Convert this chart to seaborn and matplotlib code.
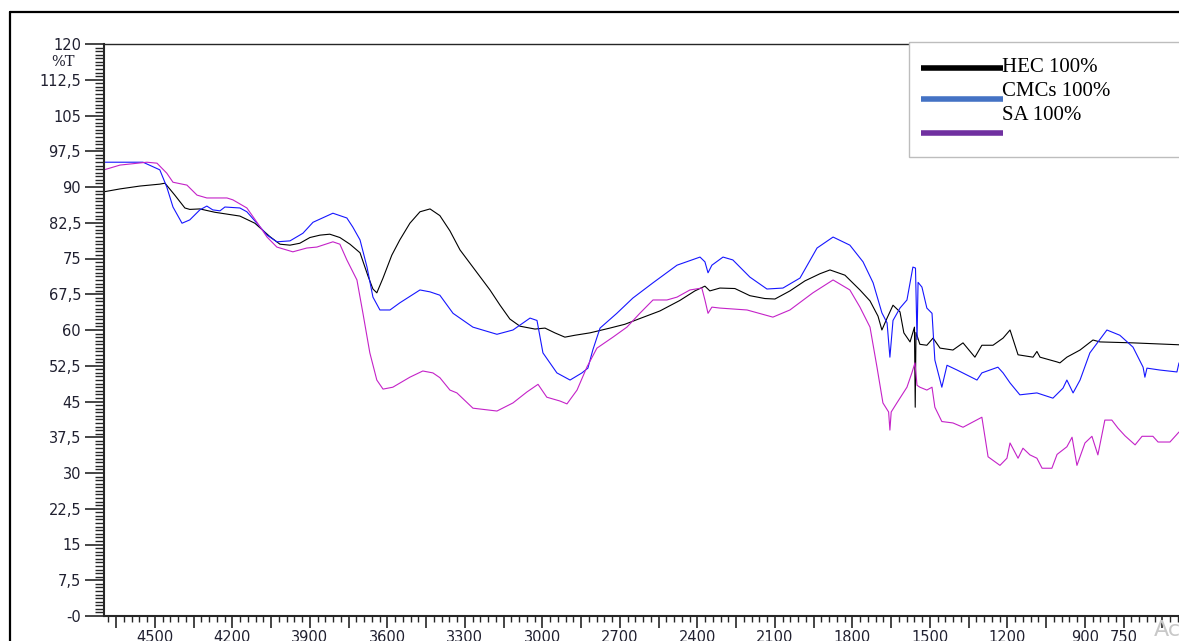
import pandas as pd
import seaborn as sns
import matplotlib.pyplot as plt
from matplotlib.lines import Line2D
from matplotlib.patches import Rectangle
from matplotlib.ticker import MultipleLocator, FuncFormatter

# FTIR spectra, wavenumber (cm-1) vs transmittance (%T)
hec_wn = [4697, 4635, 4558, 4481, 4461, 4423, 4384, 4365, 4326, 4268, 4171, 4113,
          4055, 4016, 3977, 3939, 3900, 3861, 3823, 3784, 3745, 3706, 3675, 3656,
          3641, 3617, 3583, 3552, 3513, 3474, 3435, 3397, 3358, 3319, 3261, 3203,
          3164, 3126, 3087, 3029, 2990, 2952, 2913, 2874, 2816, 2739, 2681, 2623,
          2545, 2468, 2410, 2371, 2352, 2313, 2255, 2197, 2139, 2100, 2042, 1984,
          1926, 1887, 1829, 1771, 1732, 1701, 1686, 1666, 1643, 1616, 1601, 1577,
          1560, 1557, 1554, 1539, 1512, 1488, 1461, 1411, 1372, 1326, 1299, 1256,
          1217, 1190, 1159, 1101, 1086, 1074, 1008, 997, 970, 919, 869, 842, 714, 536]
hec_t = [89.0, 89.6, 90.2, 90.6, 90.8, 88.3, 85.6, 85.3, 85.4, 84.7, 83.9, 82.4,
         79.6, 78.0, 77.8, 78.2, 79.4, 79.9, 80.1, 79.4, 78.0, 76.2, 71.3, 68.6,
         67.8, 70.9, 75.7, 78.9, 82.4, 84.8, 85.4, 84.0, 80.8, 76.8, 72.6, 68.4,
         65.2, 62.3, 60.8, 60.2, 60.4, 59.4, 58.5, 58.9, 59.4, 60.4, 61.2, 62.4,
         64.0, 66.2, 68.2, 69.2, 68.2, 68.8, 68.7, 67.2, 66.6, 66.5, 68.2, 70.3,
         71.8, 72.6, 71.5, 68.4, 66.1, 62.9, 60.0, 62.5, 65.2, 63.8, 59.4, 57.5,
         60.6, 43.8, 59.5, 57.0, 56.8, 58.3, 56.2, 55.8, 57.3, 54.3, 56.8, 56.8,
         58.3, 60.0, 54.8, 54.3, 55.5, 54.3, 53.3, 53.1, 54.3, 55.8, 57.9, 57.5,
         57.3, 56.9]

cmc_wn = [4697, 4546, 4481, 4454, 4430, 4395, 4365, 4326, 4299, 4276, 4248, 4229,
          4171, 4144, 4105, 4066, 4028, 3977, 3927, 3888, 3811, 3757, 3734, 3706,
          3679, 3656, 3629, 3590, 3552, 3474, 3435, 3397, 3346, 3269, 3176, 3114,
          3048, 3021, 2998, 2944, 2893, 2847, 2824, 2805, 2777, 2712, 2650, 2572,
          2479, 2390, 2371, 2359, 2344, 2301, 2263, 2197, 2131, 2069, 2003, 1937,
          1875, 1810, 1759, 1720, 1686, 1666, 1655, 1643, 1616, 1589, 1566, 1556,
          1550, 1546, 1531, 1512, 1492, 1481, 1454, 1434, 1395, 1318, 1299, 1237,
          1217, 1190, 1152, 1086, 1024, 985, 970, 946, 919, 881, 815, 765, 714,
          675, 668, 660, 610, 544, 536]
cmc_t = [95.2, 95.2, 93.6, 90.0, 85.8, 82.4, 83.1, 85.2, 86.0, 85.2, 85.0, 85.8,
         85.6, 84.8, 82.4, 79.9, 78.5, 78.7, 80.3, 82.6, 84.5, 83.5, 81.6, 78.9,
         73.2, 66.9, 64.2, 64.2, 65.7, 68.4, 68.0, 67.3, 63.5, 60.6, 59.1, 60.0,
         62.5, 62.0, 55.2, 51.0, 49.5, 51.0, 52.0, 55.8, 60.4, 63.5, 66.7, 69.9,
         73.6, 75.3, 74.3, 72.0, 73.6, 75.3, 74.7, 71.1, 68.6, 68.8, 70.9, 77.2,
         79.5, 77.8, 74.3, 69.9, 63.6, 61.5, 54.3, 62.0, 64.6, 66.3, 73.2, 73.0,
         58.0, 70.0, 69.0, 64.6, 63.5, 53.7, 48.0, 52.6, 51.6, 49.5, 51.0, 52.2,
         51.0, 48.9, 46.4, 46.8, 45.7, 47.8, 49.5, 46.8, 49.5, 55.2, 60.0, 58.9,
         56.4, 52.2, 50.1, 52.0, 51.6, 51.2, 53.1]

sa_wn = [4697, 4635, 4531, 4492, 4454, 4430, 4376, 4337, 4299, 4221, 4198, 4144,
         4105, 4066, 4028, 3966, 3912, 3873, 3811, 3784, 3757, 3718, 3695, 3668,
         3641, 3617, 3579, 3513, 3463, 3424, 3397, 3358, 3331, 3269, 3176, 3114,
         3060, 3017, 2983, 2932, 2905, 2866, 2828, 2789, 2727, 2673, 2623, 2572,
         2518, 2479, 2429, 2383, 2371, 2359, 2344, 2313, 2208, 2108, 2042, 1953,
         1875, 1810, 1771, 1732, 1705, 1682, 1660, 1655, 1650, 1628, 1589, 1570,
         1558, 1550, 1539, 1512, 1492, 1481, 1454, 1411, 1372, 1306, 1299, 1275,
         1229, 1202, 1190, 1159, 1140, 1113, 1086, 1066, 1028, 1008, 970, 950, 931,
         900, 873, 850, 823, 796, 772, 745, 706, 679, 637, 617, 571, 536]
sa_t = [93.6, 94.6, 95.2, 95.0, 92.9, 91.0, 90.4, 88.3, 87.7, 87.7, 87.3, 85.6,
        82.6, 79.5, 77.4, 76.4, 77.2, 77.4, 78.5, 78.0, 74.7, 70.5, 63.6, 55.2,
        49.5, 47.6, 48.0, 50.1, 51.4, 51.0, 50.0, 47.4, 46.8, 43.6, 43.0, 44.7,
        47.0, 48.6, 45.9, 45.1, 44.5, 47.4, 52.2, 56.2, 58.5, 60.6, 63.5, 66.3,
        66.3, 66.9, 68.4, 68.8, 66.3, 63.5, 64.8, 64.6, 64.2, 62.7, 64.2, 67.8,
        70.5, 68.4, 64.8, 60.6, 52.2, 44.7, 42.8, 39.0, 42.8, 44.7, 48.0, 51.0,
        53.1, 48.4, 48.0, 47.4, 48.0, 43.8, 40.8, 40.5, 39.6, 41.5, 41.7, 33.4,
        31.6, 33.1, 36.3, 33.1, 35.2, 33.8, 33.1, 31.0, 31.0, 33.9, 35.5, 37.5,
        31.6, 36.3, 37.7, 33.8, 41.1, 41.1, 39.4, 37.8, 35.9, 37.7, 37.7, 36.5,
        36.5, 38.6]

series_names = ["HEC 100%", "CMCs 100%", "SA 100%"]
line_colors = ["#000000", "#1616ff", "#c422c8"]
legend_colors = ["#000000", "#4472c4", "#7030a0"]

W, H = 1179, 641


def fx(px):
    return px / W


def fy(py):
    return 1 - py / H


def y_label(v, pos):
    if abs(v) < 1e-9:
        return "-0"
    return f"{v:g}".replace(".", ",")


def x_label(v, pos):
    v = int(round(v))
    if v == 750 or (v % 300 == 0 and v != 600):
        return str(v)
    return ""


sns.set_style("ticks")
plt.rcParams["font.family"] = ["DejaVu Sans"]

fig = plt.figure(figsize=(W / 100, H / 100), dpi=100)
ax = fig.add_axes([fx(104), fy(616), fx(W) - fx(104), fy(44) - fy(616)])

frames = [
    pd.DataFrame({"wn": hec_wn, "t": hec_t}),
    pd.DataFrame({"wn": cmc_wn, "t": cmc_t}),
    pd.DataFrame({"wn": sa_wn, "t": sa_t}),
]
for df, c in zip(frames, line_colors):
    sns.lineplot(data=df, x="wn", y="t", ax=ax, color=c, lw=0.8,
                 estimator=None, sort=False)

ax.set_xlim(4697, 536)
ax.set_ylim(0, 120)
ax.set_xlabel("")
ax.set_ylabel("")

ax.yaxis.set_major_locator(MultipleLocator(7.5))
ax.yaxis.set_minor_locator(MultipleLocator(0.75))
ax.yaxis.set_major_formatter(FuncFormatter(y_label))
ax.xaxis.set_major_locator(MultipleLocator(150))
ax.xaxis.set_minor_locator(MultipleLocator(30))
ax.xaxis.set_major_formatter(FuncFormatter(x_label))

ax.tick_params(axis="y", which="major", direction="out", length=13.5, width=1.2,
               pad=3, labelsize=10.5, labelcolor="#202030")
ax.tick_params(axis="y", which="minor", direction="out", length=6.5, width=1)
ax.tick_params(axis="x", which="major", direction="out", length=8.5, width=1.2,
               pad=1.5, labelsize=10.5, labelcolor="#202030")
ax.tick_params(axis="x", which="minor", direction="out", length=4.3, width=1)

for side in ["left", "bottom"]:
    ax.spines[side].set_linewidth(1.5)
ax.spines["top"].set_linewidth(1.0)
ax.spines["right"].set_visible(False)

# unit label between the two top ticks
ax.text(-0.038, 116.2, "%T", transform=ax.get_yaxis_transform(),
        ha="center", va="center", fontsize=10.5, color="#202030",
        family="DejaVu Serif")

# outer frame of the screenshot
fig.add_artist(Line2D([fx(10), fx(W)], [fy(12), fy(12)], transform=fig.transFigure,
                      color="black", lw=1.6))
fig.add_artist(Line2D([fx(10), fx(10)], [fy(12), 0], transform=fig.transFigure,
                      color="black", lw=1.6))

# pasted legend box
fig.add_artist(Rectangle((fx(909), fy(157)), fx(W + 10) - fx(909), fy(42) - fy(157),
                         transform=fig.transFigure, facecolor="white",
                         edgecolor="#bdbdbd", lw=1.0, zorder=10))
for name, c, ly, ty in zip(series_names, legend_colors, [68, 99, 133], [72, 96, 120]):
    fig.add_artist(Line2D([fx(921), fx(1003)], [fy(ly), fy(ly)],
                          transform=fig.transFigure, color=c, lw=4,
                          solid_capstyle="butt", zorder=11))
    fig.text(fx(1002), fy(ty), name, ha="left", va="baseline", fontsize=15,
             family="Liberation Serif", color="black", zorder=12)

# watermark corner from the screenshot
fig.text(fx(1154), fy(636), "Ac", ha="left", va="baseline", fontsize=16,
         color="#c8c8c8", zorder=12)

fig.savefig("out.png", dpi=100)
